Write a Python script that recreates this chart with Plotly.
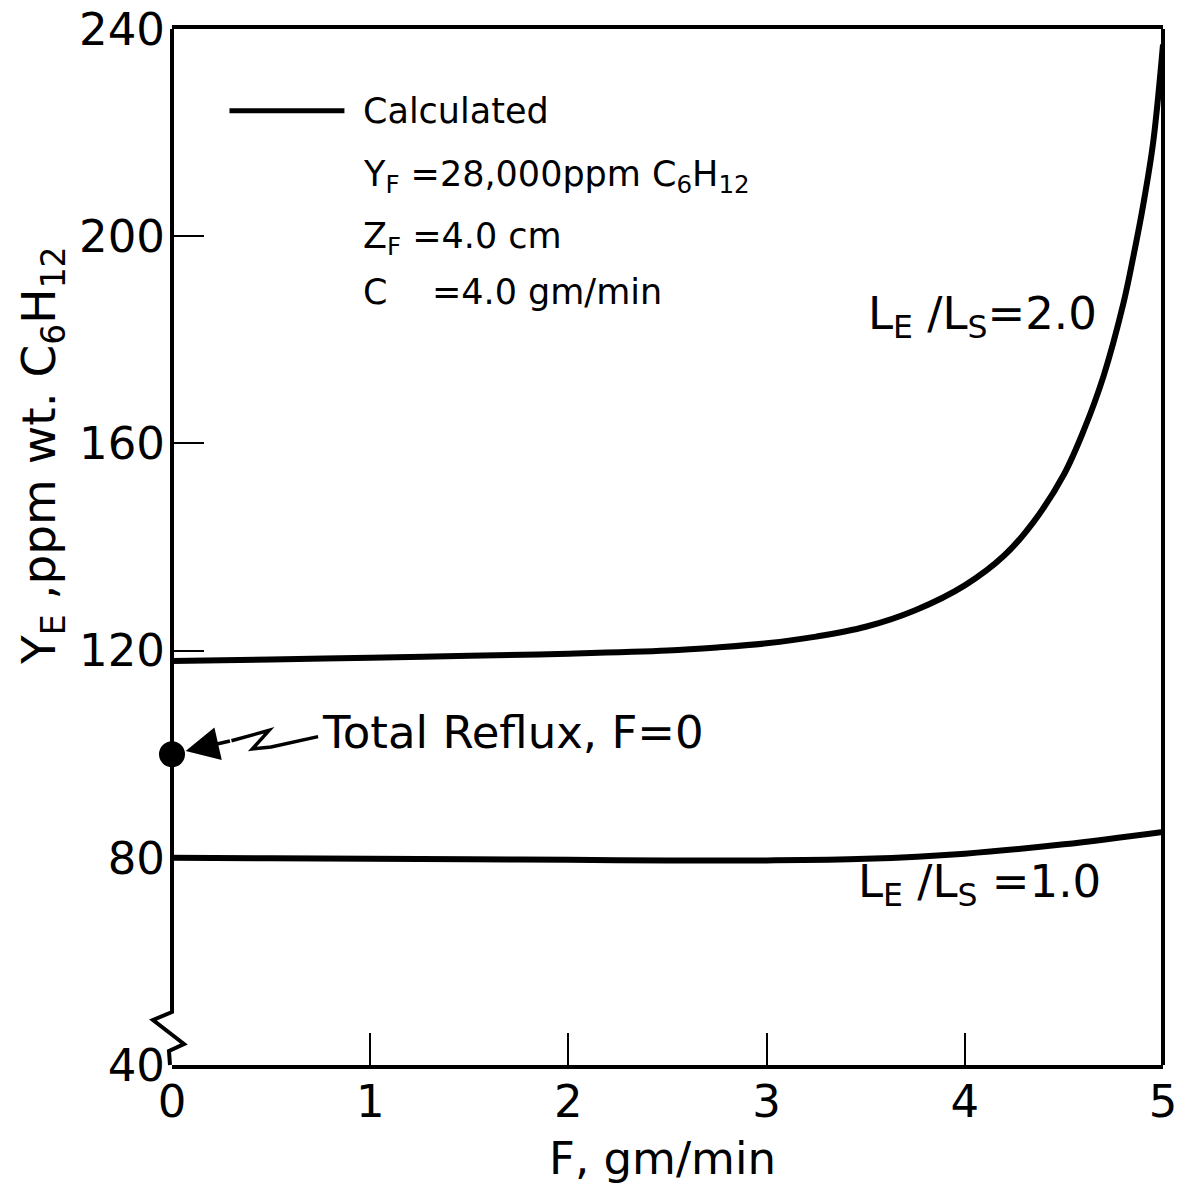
import plotly.graph_objects as go

# Feed rate F (gm/min) and extract concentration Y_E (ppm wt. C6H12)
F_ratio2 = [0.0, 0.5, 1.0, 1.5, 2.0, 2.5, 2.75, 3.0, 3.25, 3.5, 3.75, 4.0,
            4.2, 4.35, 4.5, 4.6, 4.7, 4.8, 4.85, 4.9, 4.95, 5.0]
Y_ratio2 = [118.0, 118.3, 118.6, 119.0, 119.4, 120.0, 120.6, 121.4, 122.7, 124.6,
            127.8, 132.6, 138.4, 145.0, 154.0, 162.5, 173.0, 187.0, 196.0, 206.0,
            218.0, 237.0]

F_ratio1 = [0.0, 0.5, 1.0, 1.5, 2.0, 2.5, 3.0, 3.5, 4.0, 4.5, 5.0]
Y_ratio1 = [80.0, 79.9, 79.8, 79.7, 79.6, 79.5, 79.5, 79.8, 80.8, 82.6, 85.0]

# Total reflux point
F_reflux = [0.0]
Y_reflux = [100.0]

x_ticks = [0, 1, 2, 3, 4, 5]
y_ticks = [40, 80, 120, 160, 200, 240]

FONT = "DejaVu Sans"
W, H = 1183, 1185
ML, MR, MT, MB = 172, 20, 29, 120


def px_x(p):
    """Horizontal pixel position -> paper fraction."""
    return (p - ML) / (W - ML - MR)


def px_y(p):
    """Vertical pixel position -> paper fraction."""
    return (H - MB - p) / (H - MT - MB)


fig = go.Figure()

fig.add_trace(go.Scatter(x=F_ratio2, y=Y_ratio2, mode="lines",
                         line=dict(color="black", width=6, shape="spline", smoothing=1.0),
                         hoverinfo="skip"))
fig.add_trace(go.Scatter(x=F_ratio1, y=Y_ratio1, mode="lines",
                         line=dict(color="black", width=6, shape="spline"),
                         hoverinfo="skip"))
fig.add_trace(go.Scatter(x=F_reflux, y=Y_reflux, mode="markers",
                         marker=dict(color="black", size=26),
                         cliponaxis=False, hoverinfo="skip"))

shapes = []
# right border
shapes.append(dict(type="line", xref="paper", yref="paper", x0=1, x1=1, y0=0, y1=1,
                   line=dict(color="black", width=4)))
# left border with axis break near the origin
break_pts = [(ML, MT), (ML, 1012), (153, 1020), (184, 1044), (169, 1051), (170, H - MB)]
path = "M " + " L ".join(f"{px_x(a):.5f},{px_y(b):.5f}" for a, b in break_pts)
shapes.append(dict(type="path", xref="paper", yref="paper", path=path,
                   line=dict(color="black", width=4)))
# legend sample line
shapes.append(dict(type="line", xref="x", yref="y", x0=0.29, x1=0.87, y0=224.2, y1=224.2,
                   line=dict(color="black", width=5)))
# squiggle leading from the label to the reflux point
sq = [(0.30, 102.6), (0.49, 104.6), (0.405, 101.0), (0.50, 101.4), (0.737, 103.4)]
shapes.append(dict(type="path", xref="x", yref="y",
                   path="M " + " L ".join(f"{a},{b}" for a, b in sq),
                   line=dict(color="black", width=3.5)))

ann = []
txt = dict(family=FONT, size=45, color="black")
small = dict(family=FONT, size=35, color="black")

ann.append(dict(x=0, y=100, xref="x", yref="y", ax=0.30, ay=102.6, axref="x", ayref="y",
                text="", showarrow=True, arrowhead=2, arrowsize=1.9, arrowwidth=3.5,
                arrowcolor="black", standoff=14))
ann.append(dict(x=0.747, y=104.2, xref="x", yref="y", text="Total Reflux, F=0",
                showarrow=False, xanchor="left", yanchor="middle", font=txt))
ann.append(dict(x=3.50, y=184.5, xref="x", yref="y",
                text="L<sub>E</sub> /L<sub>S</sub>=2.0",
                showarrow=False, xanchor="left", yanchor="middle", font=txt))
ann.append(dict(x=3.45, y=75.0, xref="x", yref="y",
                text="L<sub>E</sub> /L<sub>S</sub> =1.0",
                showarrow=False, xanchor="left", yanchor="middle", font=txt))

legend_lines = [
    ("Calculated", 224.2),
    ("Y<sub>F</sub> =28,000ppm C<sub>6</sub>H<sub>12</sub>", 211.5),
    ("Z<sub>F</sub> =4.0 cm", 199.5),
    ("C    =4.0 gm/min", 189.2),
]
for t, yv in legend_lines:
    ann.append(dict(x=0.955, y=yv, xref="x", yref="y", text=t, showarrow=False,
                    xanchor="left", yanchor="middle", font=small))

# axis titles
ann.append(dict(x=px_x(42), y=px_y(456), xref="paper", yref="paper",
                text="Y<sub>E</sub> ,ppm wt. C<sub>6</sub>H<sub>12</sub>",
                textangle=-90, showarrow=False, xanchor="center", yanchor="middle",
                font=dict(family=FONT, size=47, color="black")))
ann.append(dict(x=px_x(662), y=px_y(1158), xref="paper", yref="paper",
                text="F, gm/min", showarrow=False, xanchor="center", yanchor="middle",
                font=txt))

fig.update_layout(
    width=W, height=H,
    margin=dict(l=ML, r=MR, t=MT, b=MB, autoexpand=False),
    paper_bgcolor="white", plot_bgcolor="white",
    showlegend=False,
    shapes=shapes, annotations=ann,
    font=dict(family=FONT, color="black"),
)
fig.update_xaxes(range=[0, 5], tickvals=x_ticks, ticktext=[str(v) for v in x_ticks],
                 ticks="inside", ticklen=32, tickwidth=2, tickcolor="black",
                 showline=True, linewidth=4, linecolor="black", mirror=True,
                 showgrid=False, zeroline=False, ticklabelstandoff=-6,
                 tickfont=dict(family=FONT, size=45, color="black"))
fig.update_yaxes(range=[40, 240], tickvals=y_ticks, ticktext=[str(v) for v in y_ticks],
                 ticks="inside", ticklen=32, tickwidth=2, tickcolor="black",
                 showline=False, showgrid=False, zeroline=False, ticklabelstandoff=6,
                 tickfont=dict(family=FONT, size=45, color="black"))

fig.write_html("out.html")
